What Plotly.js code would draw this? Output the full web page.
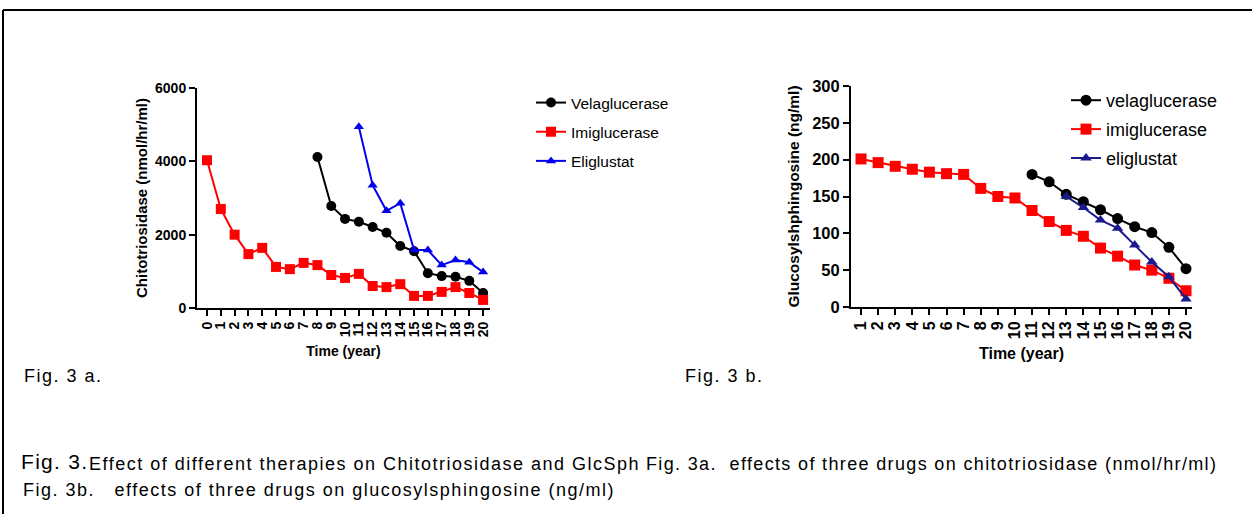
<!DOCTYPE html>
<html>
<head>
<meta charset="utf-8">
<script src="https://cdn.plot.ly/plotly-3.0.1.min.js"></script>
<style>html,body{margin:0;padding:0;background:#fff}#chart{width:1252px;height:514px}</style>
</head>
<body>
<div id="chart"></div>
<script>
// ---- Fig. 3a: chitotriosidase (nmol/hr/ml) ----
const yearsA = [0,1,2,3,4,5,6,7,8,9,10,11,12,13,14,15,16,17,18,19,20];
const imigA = [4030,2700,2000,1470,1640,1120,1060,1230,1170,900,820,930,600,570,650,330,330,440,570,410,220];
const velaYearsA = [8,9,10,11,12,13,14,15,16,17,18,19,20];
const velaA = [4120,2780,2430,2350,2210,2050,1690,1550,950,870,850,740,410];
const eligYearsA = [11,12,13,14,15,16,17,18,19,20];
const eligA = [4940,3350,2650,2860,1580,1580,1170,1310,1250,980];
const yTicksA = [0,2000,4000,6000];

// ---- Fig. 3b: glucosylsphingosine (ng/ml) ----
const yearsB = [1,2,3,4,5,6,7,8,9,10,11,12,13,14,15,16,17,18,19,20];
const imigB = [201,196,191,187,183,181,180,161,150,148,131,116,104,96,80,69,57,50,39,22];
const velaYearsB = [11,12,13,14,15,16,17,18,19,20];
const velaB = [180,170,153,143,132,120,109,101,81,52];
const eligYearsB = [13,14,15,16,17,18,19,20];
const eligB = [150,135,118,107,84,61,41,11];
const yTicksB = [0,50,100,150,200,250,300];

const namesA = ['Velaglucerase','Imiglucerase','Eliglustat'];
const namesB = ['velaglucerase','imiglucerase','eliglustat'];

const FONT = 'Arial, "Liberation Sans", sans-serif';
const BLUE_A = '#0000ee', BLUE_B = '#1a1a8c';

function tr(x, y, name, color, symbol, size, xa, ya, leg, grp) {
  return {x: x, y: y, name: name, type: 'scatter', mode: 'lines+markers',
    xaxis: xa, yaxis: ya, legend: leg, legendgroup: grp, cliponaxis: false,
    line: {color: color, width: 2},
    marker: {color: color, symbol: symbol, size: size}};
}

const data = [
  tr(velaYearsA, velaA, namesA[0], '#000000', 'circle', 10, 'x', 'y', 'legend', 'a1'),
  tr(yearsA, imigA, namesA[1], '#ff0000', 'square', 10, 'x', 'y', 'legend', 'a2'),
  tr(eligYearsA, eligA, namesA[2], BLUE_A, 'triangle-up', 9, 'x', 'y', 'legend', 'a3'),
  tr(velaYearsB, velaB, namesB[0], '#000000', 'circle', 11, 'x2', 'y2', 'legend2', 'b1'),
  tr(yearsB, imigB, namesB[1], '#ff0000', 'square', 11, 'x2', 'y2', 'legend2', 'b2'),
  tr(eligYearsB, eligB, namesB[2], BLUE_B, 'triangle-up', 10, 'x2', 'y2', 'legend2', 'b3')
];

function axis(extra, fs) {
  return Object.assign({
    showline: true, linecolor: '#000', linewidth: 2, showgrid: false, zeroline: false,
    ticks: 'outside', ticklen: 6, tickwidth: 2, tickcolor: '#000', tickmode: 'array',
    tickfont: {family: FONT, size: fs, color: '#000', weight: 'bold'}, fixedrange: true
  }, extra);
}

const P = (px) => px / 1252, Q = (py) => 1 - py / 514;
const sp = (t, ls) => '<span style="letter-spacing:' + ls + 'px">' + t + '</span>';

const layout = {
  width: 1252, height: 514, margin: {l: 0, r: 0, t: 0, b: 0},
  paper_bgcolor: '#fff', plot_bgcolor: '#fff', showlegend: true,
  font: {family: FONT, color: '#000'},
  xaxis: axis({domain: [P(197), P(490)], range: [-0.725, 20.5], tickvals: yearsA, tickangle: -90, anchor: 'y',
    title: {text: 'Time (year)', font: {family: FONT, size: 14, weight: 'bold'}, standoff: 10}}, 14),
  yaxis: axis({domain: [Q(308), Q(88)], range: [0, 6000], tickvals: yTicksA, anchor: 'x',
    title: {text: 'Chitotriosidase (nmol/hr/ml)', font: {family: FONT, size: 15, weight: 'bold'}, standoff: 4}}, 14),
  xaxis2: axis({domain: [P(851), P(1192)], range: [0.415, 20.35], tickvals: yearsB, tickangle: -90, anchor: 'y2',
    title: {text: 'Time (year)', font: {family: FONT, size: 16, weight: 'bold'}, standoff: 10}}, 16),
  yaxis2: axis({domain: [Q(307), Q(86)], range: [0, 300], tickvals: yTicksB, anchor: 'x2',
    title: {text: 'Glucosylshphingosine (ng/ml)', font: {family: FONT, size: 15.5, weight: 'bold'}, standoff: 9}}, 16.5),
  legend: {x: P(531), y: Q(86), xanchor: 'left', yanchor: 'top', bgcolor: 'rgba(0,0,0,0)',
    font: {family: FONT, size: 15.5, color: '#000'}, traceorder: 'grouped', tracegroupgap: 6},
  legend2: {x: P(1066), y: Q(82), xanchor: 'left', yanchor: 'top', bgcolor: 'rgba(0,0,0,0)',
    font: {family: FONT, size: 18, color: '#000'}, traceorder: 'grouped', tracegroupgap: 2.5},
  shapes: [
    {type: 'line', xref: 'paper', yref: 'paper', x0: P(3), x1: 1, y0: Q(10), y1: Q(10), line: {color: '#000', width: 2}},
    {type: 'line', xref: 'paper', yref: 'paper', x0: P(3), x1: P(3), y0: Q(10), y1: 0, line: {color: '#000', width: 2}}
  ],
  annotations: [
    {text: 'Fig. 3 a.', x: P(22), y: Q(376), size: 18, ls: 1.5},
    {text: 'Fig. 3 b.', x: P(683), y: Q(376), size: 18, ls: 1.5},
    {text: 'Fig. 3.', x: P(19), y: Q(461), size: 21, ls: 1.3},
    {text: 'Effect of different therapies on Chitotriosidase and GlcSph', x: P(87), y: Q(464), size: 18, ls: 1.5},
    {text: 'Fig. 3a.\u00a0\u00a0effects of three drugs on chitotriosidase (nmol/hr/ml)', x: P(644), y: Q(464), size: 18, ls: 1.35},
    {text: 'Fig. 3b.\u00a0\u00a0\u00a0effects of three drugs on glucosylsphingosine (ng/ml)', x: P(21), y: Q(490), size: 18, ls: 1.5}
  ].map(a => ({text: sp(a.text, a.ls), x: a.x, y: a.y, xref: 'paper', yref: 'paper', xanchor: 'left', yanchor: 'middle',
    showarrow: false, font: {family: FONT, size: a.size, color: '#000'}}))
};

Plotly.newPlot('chart', data, layout, {displayModeBar: false, staticPlot: true});
</script>
</body>
</html>
